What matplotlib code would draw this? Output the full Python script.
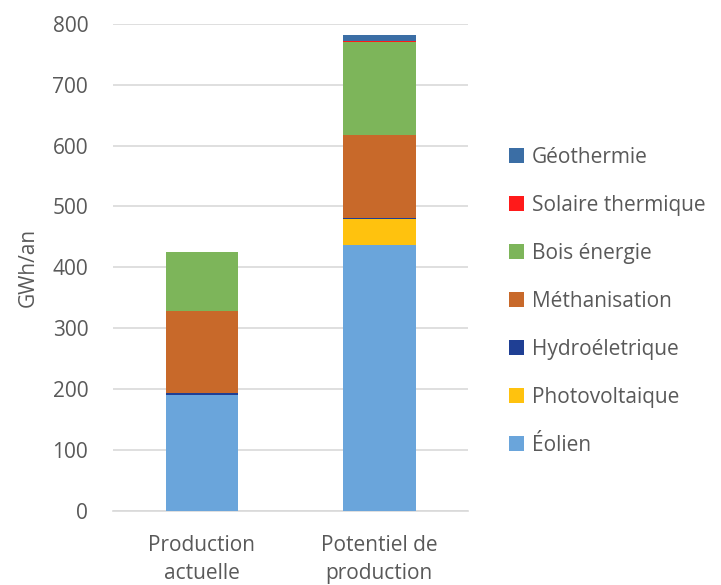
import matplotlib.pyplot as plt
import numpy as np

plt.rcParams['font.family'] = ['Open Sans', 'DejaVu Sans']

categories = ["Production\nactuelle", "Potentiel de\nproduction"]
series = ["Éolien", "Photovoltaique", "Hydroéletrique", "Méthanisation",
          "Bois énergie", "Solaire thermique", "Géothermie"]
eolien = [191, 437]
photovoltaique = [0, 42]
hydro = [2, 2]
methanisation = [135, 136]
bois = [97, 153]
solaire = [0, 2]
geothermie = [0, 10]
values = [eolien, photovoltaique, hydro, methanisation, bois, solaire, geothermie]
colors = ["#6aa5db", "#ffc20e", "#1f3f94", "#c8692a", "#7db55a", "#ff1a1a", "#3b6ea5"]

grey = "#595959"
fs = 15

fig = plt.figure(figsize=(7.21, 5.85), dpi=100)
ax = fig.add_axes([0.157, 0.1265, 0.492, 0.833])

x = np.arange(len(categories))
bottom = np.zeros(len(categories))
for name, vals, col in zip(series, values, colors):
    ax.bar(x, vals, bottom=bottom, width=0.41, color=col, label=name,
           zorder=3, edgecolor="none")
    bottom += np.array(vals)

ax.set_xlim(-0.5, 1.5)
ax.set_ylim(0, 800)
ax.set_yticks(range(0, 801, 100))
ax.set_xticks(x)
ax.set_xticklabels(categories, linespacing=1.45, va="top")
ax.grid(axis='y', color="#d9d9d9", linewidth=1.2, zorder=0)
for s in ["top", "right", "left"]:
    ax.spines[s].set_visible(False)
ax.spines["bottom"].set_color("#d9d9d9")
ax.spines["bottom"].set_linewidth(1.2)
ax.tick_params(axis='both', length=0, labelsize=fs, labelcolor=grey)
ax.tick_params(axis='y', pad=18)
ax.tick_params(axis='x', pad=17)
ax.set_ylabel("GWh/an", fontsize=fs, color=grey, labelpad=10)

handles, labels = ax.get_legend_handles_labels()
leg = fig.legend(handles[::-1], labels[::-1], loc="center left",
                 bbox_to_anchor=(0.68, 0.485), frameon=False,
                 fontsize=fs, labelspacing=1.3, handlelength=0.7,
                 handleheight=0.7, handletextpad=0.4)
for t in leg.get_texts():
    t.set_color(grey)

fig.savefig("out.png", dpi=100)
